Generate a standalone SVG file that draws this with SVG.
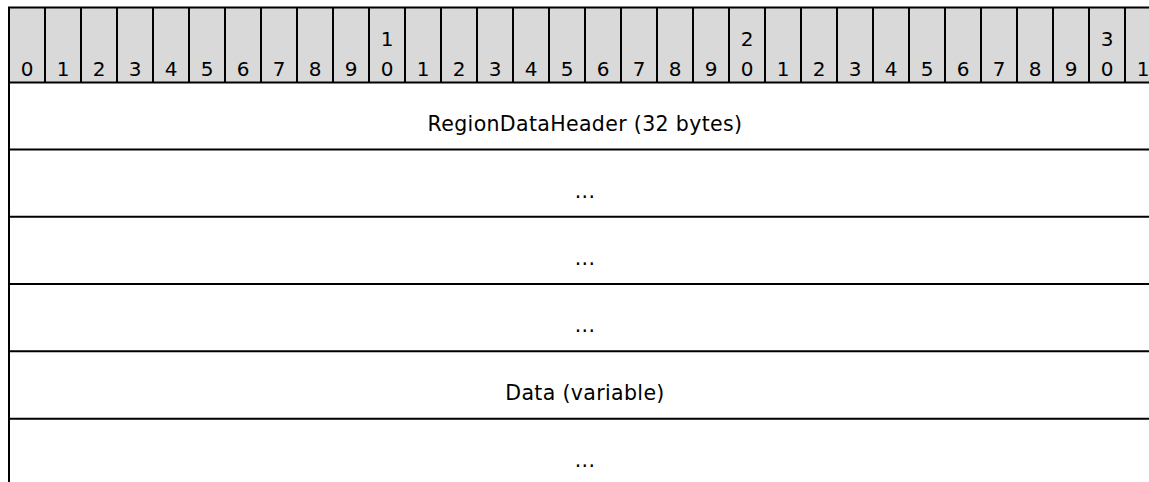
<svg xmlns="http://www.w3.org/2000/svg" width="1149" height="482" viewBox="0 0 1149 482">
<style>
text{font-family:"DejaVu Sans","Verdana",sans-serif;font-size:20px;fill:#000;text-anchor:middle}
.f{font-size:20.5px;letter-spacing:0.35px}
.hd{fill:#d9d9d9;stroke:#000;stroke-width:2}
.ln{stroke:#000;stroke-width:2;fill:none}
</style>
<rect width="1149" height="482" fill="#fff"/>
<g id="header">
<rect class="hd" x="9" y="7.5" width="1152" height="75"/>
<path class="ln" d="M45 7.5V82.5M81 7.5V82.5M117 7.5V82.5M153 7.5V82.5M189 7.5V82.5M225 7.5V82.5M261 7.5V82.5M297 7.5V82.5M333 7.5V82.5M369 7.5V82.5M405 7.5V82.5M441 7.5V82.5M477 7.5V82.5M513 7.5V82.5M549 7.5V82.5M585 7.5V82.5M621 7.5V82.5M657 7.5V82.5M693 7.5V82.5M729 7.5V82.5M765 7.5V82.5M801 7.5V82.5M837 7.5V82.5M873 7.5V82.5M909 7.5V82.5M945 7.5V82.5M981 7.5V82.5M1017 7.5V82.5M1053 7.5V82.5M1089 7.5V82.5M1125 7.5V82.5"/>
<text x="27" y="76">0</text><text x="63" y="76">1</text><text x="99" y="76">2</text><text x="135" y="76">3</text><text x="171" y="76">4</text><text x="207" y="76">5</text><text x="243" y="76">6</text><text x="279" y="76">7</text><text x="315" y="76">8</text><text x="351" y="76">9</text>
<text x="387" y="46">1</text><text x="387" y="76">0</text>
<text x="423" y="76">1</text><text x="459" y="76">2</text><text x="495" y="76">3</text><text x="531" y="76">4</text><text x="567" y="76">5</text><text x="603" y="76">6</text><text x="639" y="76">7</text><text x="675" y="76">8</text><text x="711" y="76">9</text>
<text x="747" y="46">2</text><text x="747" y="76">0</text>
<text x="783" y="76">1</text><text x="819" y="76">2</text><text x="855" y="76">3</text><text x="891" y="76">4</text><text x="927" y="76">5</text><text x="963" y="76">6</text><text x="999" y="76">7</text><text x="1035" y="76">8</text><text x="1071" y="76">9</text>
<text x="1107" y="46">3</text><text x="1107" y="76">0</text>
<text x="1143" y="76">1</text>
</g>
<g id="grid">
<path class="ln" d="M9 7.5V482M9 149.5H1149M9 216.7H1149M9 284H1149M9 351.3H1149M9 418.7H1149"/>
</g>
<g id="connectors"></g>
<g id="field-regiondataheader"><text class="f" x="585" y="131">RegionDataHeader (32 bytes)</text></g>
<g id="field-cont1"><text class="f" x="585" y="198">...</text></g>
<g id="field-cont2"><text class="f" x="585" y="265">...</text></g>
<g id="field-cont3"><text class="f" x="585" y="332">...</text></g>
<g id="field-data"><text class="f" x="585" y="399.5">Data (variable)</text></g>
<g id="field-cont4"><text class="f" x="585" y="467">...</text></g>
</svg>
